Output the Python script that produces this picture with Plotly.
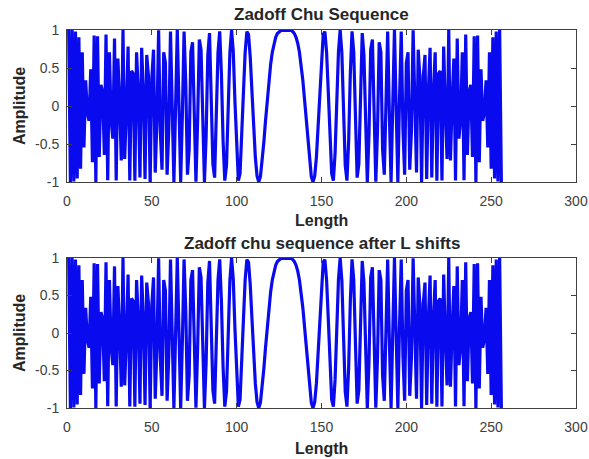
import plotly.graph_objects as go
from plotly.subplots import make_subplots

# Sample index (1..256)
length_idx = list(range(1, 257))

zc_values = [
    1.000, -1.000, 0.999, -0.994, 0.981, -0.953, 0.904, -0.825, 0.707, -0.545, 0.337, -0.086, -0.195, 0.482, -0.741, 0.929,
    -1.000, 0.919, -0.672, 0.279, 0.195, -0.644, 0.942, -0.978, 0.707, -0.183, -0.428, 0.888, -0.981, 0.625, 0.049, -0.716,
    1.000, -0.698, -0.049, 0.781, -0.981, 0.460, 0.428, -0.983, 0.707, 0.207, -0.942, 0.765, 0.195, -0.960, 0.672, 0.394,
    -1.000, 0.371, 0.741, -0.876, -0.195, 0.996, -0.337, -0.838, 0.707, 0.566, -0.904, -0.302, 0.981, 0.110, -0.999, -0.012,
    1.000, 0.012, -0.999, -0.110, 0.981, 0.302, -0.904, -0.566, 0.707, 0.838, -0.337, -0.996, -0.195, 0.876, 0.741, -0.371,
    -1.000, -0.394, 0.672, 0.960, 0.195, -0.765, -0.942, -0.207, 0.707, 0.983, 0.428, -0.460, -0.981, -0.781, -0.049, 0.698,
    1.000, 0.716, 0.049, -0.625, -0.981, -0.888, -0.428, 0.183, 0.707, 0.978, 0.942, 0.644, 0.195, -0.279, -0.672, -0.919,
    -1.000, -0.929, -0.741, -0.482, -0.195, 0.086, 0.337, 0.545, 0.707, 0.825, 0.904, 0.953, 0.981, 0.994, 0.999, 1.000,
    1.000, 1.000, 0.999, 0.994, 0.981, 0.953, 0.904, 0.825, 0.707, 0.545, 0.337, 0.086, -0.195, -0.482, -0.741, -0.929,
    -1.000, -0.919, -0.672, -0.279, 0.195, 0.644, 0.942, 0.978, 0.707, 0.183, -0.428, -0.888, -0.981, -0.625, 0.049, 0.716,
    1.000, 0.698, -0.049, -0.781, -0.981, -0.460, 0.428, 0.983, 0.707, -0.207, -0.942, -0.765, 0.195, 0.960, 0.672, -0.394,
    -1.000, -0.371, 0.741, 0.876, -0.195, -0.996, -0.337, 0.838, 0.707, -0.566, -0.904, 0.302, 0.981, -0.110, -0.999, 0.012,
    1.000, -0.012, -0.999, 0.110, 0.981, -0.302, -0.904, 0.566, 0.707, -0.838, -0.337, 0.996, -0.195, -0.876, 0.741, 0.371,
    -1.000, 0.394, 0.672, -0.960, 0.195, 0.765, -0.942, 0.207, 0.707, -0.983, 0.428, 0.460, -0.981, 0.781, -0.049, -0.698,
    1.000, -0.716, 0.049, 0.625, -0.981, 0.888, -0.428, -0.183, 0.707, -0.978, 0.942, -0.644, 0.195, 0.279, -0.672, 0.919,
    -1.000, 0.929, -0.741, 0.482, -0.195, -0.086, 0.337, -0.545, 0.707, -0.825, 0.904, -0.953, 0.981, -0.994, 0.999, -1.000,
]

# Sequence after L shifts (visually identical in the chart)
zc_shifted_values = list(zc_values)

x_ticks = [0, 50, 100, 150, 200, 250, 300]
y_ticks = [-1, -0.5, 0, 0.5, 1]
y_tick_labels = ["-1", "-0.5", "0", "0.5", "1"]

titles = ["Zadoff Chu Sequence", "Zadoff chu sequence after L shifts"]
x_label = "Length"
y_label = "Amplitude"

W, H = 589, 459
ML, MR, MT, MB = 67, 13, 30, 51
plot_h = H - MT - MB

def py(pix):
    return (H - MB - pix) / plot_h

def px(pix):
    return (pix - ML) / (W - ML - MR)

fig = make_subplots(rows=2, cols=1)
fig.add_trace(go.Scatter(x=length_idx, y=zc_values, mode="lines",
                         line=dict(color="#0a0aee", width=3.2), showlegend=False), row=1, col=1)
fig.add_trace(go.Scatter(x=length_idx, y=zc_shifted_values, mode="lines",
                         line=dict(color="#0a0aee", width=3.2), showlegend=False), row=2, col=1)

axis_common = dict(showgrid=False, zeroline=False, showline=True, linecolor="#404040",
                   linewidth=1, mirror="ticks", ticks="inside", ticklen=5, tickcolor="#404040",
                   automargin=False,
                   tickfont=dict(family="Liberation Sans, Arial", size=14, color="#404040"))

fig.update_xaxes(range=[0, 300], tickvals=x_ticks, ticklabelstandoff=6, **axis_common)
fig.update_yaxes(range=[-1, 1], tickvals=y_ticks, ticktext=y_tick_labels, ticklabelstandoff=4, **axis_common)

fig.update_layout(
    width=W, height=H,
    margin=dict(l=ML, r=MR, t=MT, b=MB, autoexpand=False),
    plot_bgcolor="white", paper_bgcolor="white",
    xaxis=dict(domain=[0.0, 1.0]),
    xaxis2=dict(domain=[0.0, 1.0]),
    yaxis=dict(domain=[py(182), 1.0]),
    yaxis2=dict(domain=[0.0, py(258)]),
)

annots = []
font_b = dict(family="Liberation Sans, Arial", size=16, color="#262626")
font_t = dict(family="Liberation Sans, Arial", size=17, color="#262626")
annots.append(dict(text="<b>%s</b>" % titles[0], x=0.5, y=py(15), xref="paper", yref="paper",
                   showarrow=False, xanchor="center", yanchor="middle", font=font_t))
annots.append(dict(text="<b>%s</b>" % titles[1], x=0.5, y=py(243), xref="paper", yref="paper",
                   showarrow=False, xanchor="center", yanchor="middle", font=font_t))
for yy in (220, 448):
    annots.append(dict(text="<b>%s</b>" % x_label, x=0.5, y=py(yy), xref="paper", yref="paper",
                       showarrow=False, xanchor="center", yanchor="middle", font=font_b))
for yy in (106, 333):
    annots.append(dict(text="<b>%s</b>" % y_label, x=px(19), y=py(yy), xref="paper", yref="paper",
                       showarrow=False, xanchor="center", yanchor="middle", textangle=-90, font=font_b))
fig.update_layout(annotations=annots)

fig.write_html("out.html", config={"displayModeBar": False},
               post_script="document.body.style.margin='0px';document.body.style.overflow='hidden';")
